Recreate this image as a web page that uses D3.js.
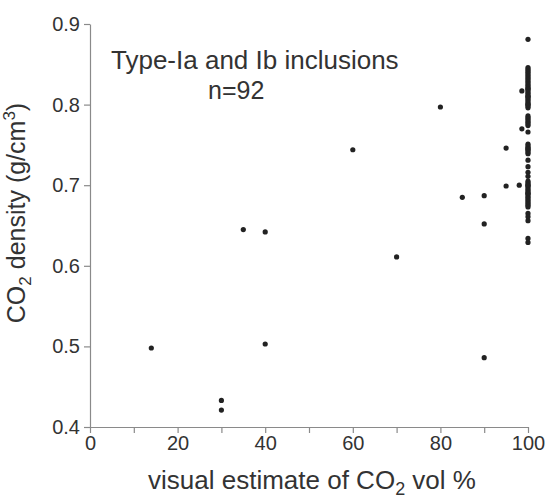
<!DOCTYPE html>
<html>
<head>
<meta charset="utf-8">
<script src="https://cdn.jsdelivr.net/npm/d3@7"></script>
<style>
  body { margin: 0; background: #fff; }
  svg { font-family: "Liberation Sans", Arial, sans-serif; }
</style>
</head>
<body>
<div id="chart"></div>
<script>
// Puntos dispersos (vol % estimado, densidad CO2)
const scatterX = [14, 30, 30, 35, 40, 40, 60, 70, 80, 85, 90, 90, 90, 95, 95, 98, 98.6, 98.6];
const scatterY = [0.498, 0.433, 0.421, 0.645, 0.642, 0.503, 0.744, 0.611, 0.797, 0.685, 0.687, 0.652, 0.486, 0.746, 0.699, 0.700, 0.817, 0.770];

// Columna de inclusiones con 100 vol % CO2
const fullColumnY = [
  0.881,
  0.846, 0.844, 0.842, 0.840, 0.838, 0.836, 0.834, 0.832, 0.830, 0.828, 0.826, 0.824, 0.822,
  0.820, 0.818, 0.816, 0.814, 0.812, 0.810, 0.808, 0.806, 0.804, 0.802, 0.800, 0.798, 0.796,
  0.786, 0.784, 0.782, 0.780, 0.778, 0.776, 0.774,
  0.766,
  0.751, 0.749, 0.747, 0.745, 0.743, 0.741, 0.739,
  0.731, 0.723, 0.716, 0.711,
  0.705, 0.703, 0.701, 0.699, 0.697, 0.695, 0.693, 0.691, 0.689, 0.687, 0.685, 0.683,
  0.681, 0.679, 0.677, 0.675, 0.673,
  0.665, 0.661, 0.656,
  0.634, 0.629,
  0.820, 0.810, 0.800, 0.745, 0.700, 0.690
];

const xTicks = [0, 10, 20, 30, 40, 50, 60, 70, 80, 90, 100];
const yTicks = [0.4, 0.5, 0.6, 0.7, 0.8, 0.9];

const width = 545, height = 500;
const margin = { top: 24, right: 17, bottom: 73, left: 90 };

const svg = d3.select("#chart").append("svg")
  .attr("width", width)
  .attr("height", height);

const x = d3.scaleLinear().domain([0, 100]).range([margin.left, width - margin.right]);
const y = d3.scaleLinear().domain([0.4, 0.9]).range([height - margin.bottom, margin.top]);

const axisColor = "#8a8a8a";
const textColor = "#333";

// Eje X
const gx = svg.append("g")
  .attr("transform", `translate(0,${y(0.4)})`)
  .call(d3.axisBottom(x)
    .tickValues(xTicks)
    .tickSize(6)
    .tickSizeOuter(0)
    .tickPadding(3)
    .tickFormat(d => d % 20 === 0 ? d : ""));

// Eje Y
const gy = svg.append("g")
  .attr("transform", `translate(${x(0)},0)`)
  .call(d3.axisLeft(y)
    .tickValues(yTicks)
    .tickSize(6)
    .tickSizeOuter(0)
    .tickPadding(4)
    .tickFormat(d3.format(".1f")));

[gx, gy].forEach(g => {
  g.select(".domain").attr("stroke", axisColor).attr("stroke-width", 1.2);
  g.selectAll(".tick line").attr("stroke", axisColor).attr("stroke-width", 1.2);
  g.selectAll(".tick text").attr("fill", textColor).style("font-size", "20px");
});

// Puntos
const points = scatterX.map((v, i) => ({ x: v, y: scatterY[i] }))
  .concat(fullColumnY.map(v => ({ x: 100, y: v })));

svg.append("g")
  .selectAll("circle")
  .data(points)
  .enter().append("circle")
  .attr("cx", d => x(d.x))
  .attr("cy", d => y(d.y))
  .attr("r", 2.6)
  .attr("fill", "#222");

// Anotación
svg.append("text")
  .attr("x", 111)
  .attr("y", 69)
  .attr("fill", textColor)
  .style("font-size", "26px")
  .text("Type-Ia and Ib inclusions");

svg.append("text")
  .attr("x", 208)
  .attr("y", 99)
  .attr("fill", textColor)
  .style("font-size", "25px")
  .text("n=" + points.length);

// Título eje X
const xt = svg.append("text")
  .attr("x", 312)
  .attr("y", 489)
  .attr("text-anchor", "middle")
  .attr("fill", textColor)
  .style("font-size", "26px");
xt.append("tspan").text("visual estimate of CO");
xt.append("tspan").attr("dy", 6).style("font-size", "18px").text("2");
xt.append("tspan").attr("dy", -6).text(" vol %");

// Título eje Y
const yt = svg.append("text")
  .attr("transform", `translate(25,${213}) rotate(-90)`)
  .attr("text-anchor", "middle")
  .attr("fill", textColor)
  .style("font-size", "25px");
yt.append("tspan").text("CO");
yt.append("tspan").attr("dy", 6).style("font-size", "17px").text("2");
yt.append("tspan").attr("dy", -6).text(" density (g/cm");
yt.append("tspan").attr("dy", -10).style("font-size", "17px").text("3");
yt.append("tspan").attr("dy", 10).text(")");
</script>
</body>
</html>
